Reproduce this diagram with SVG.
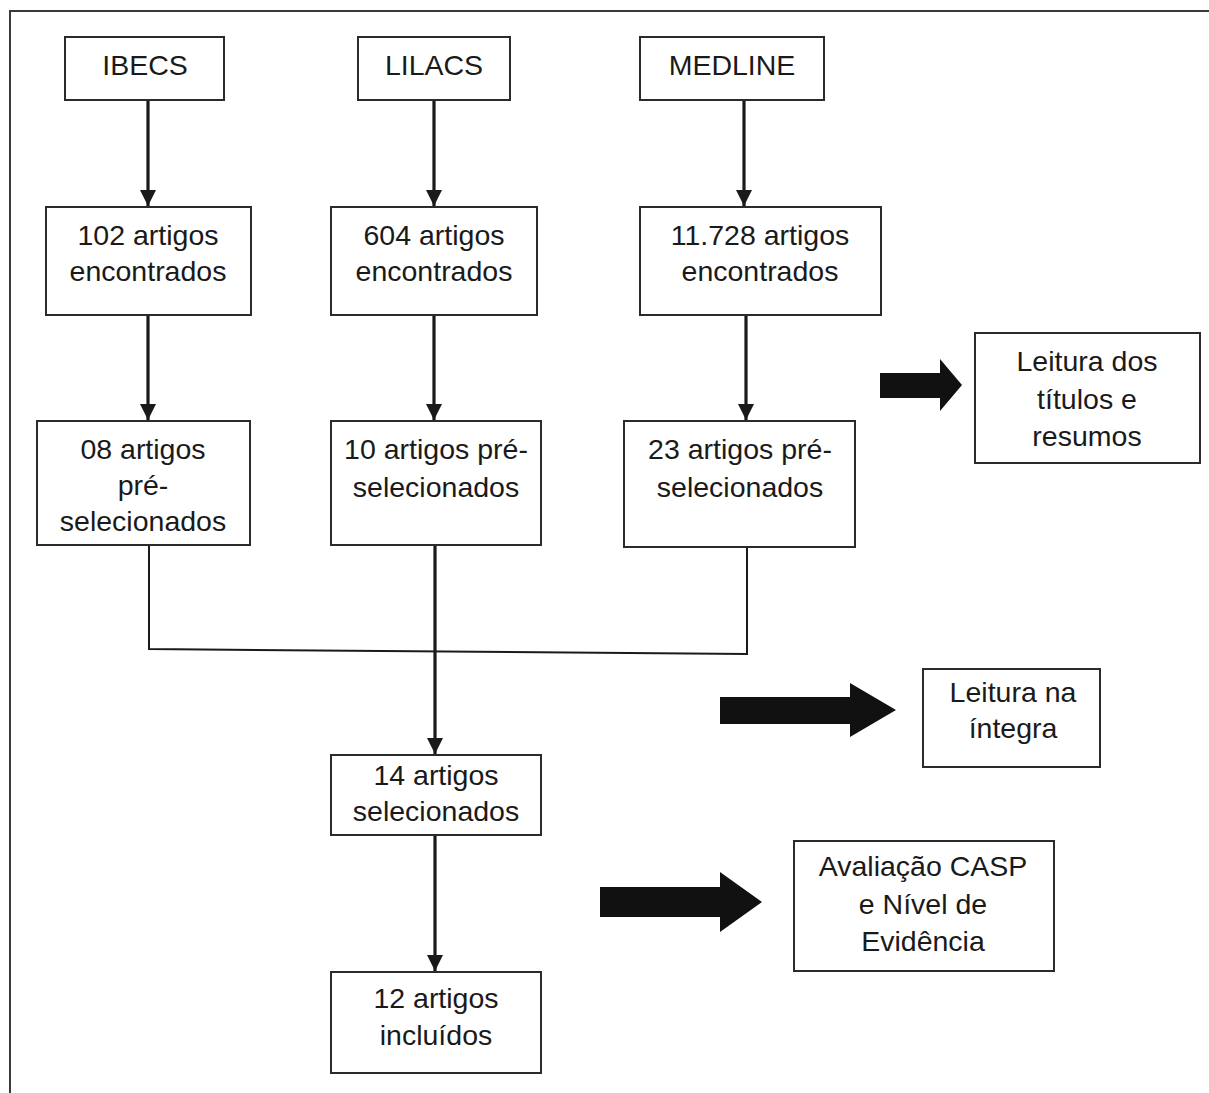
<svg xmlns="http://www.w3.org/2000/svg" width="1209" height="1093" viewBox="0 0 1209 1093">
<style>
.box{fill:#fff;stroke:#2b2b2b;stroke-width:2}
.t{font-family:"Liberation Sans",Arial,sans-serif;font-size:28.5px;fill:#1a1a1a;text-anchor:middle}
.c{fill:none;stroke:#1a1a1a;stroke-width:3.2}
.c2{fill:none;stroke:#1a1a1a;stroke-width:2}
.blk{fill:#111}
</style>
<defs>
<marker id="ah" markerWidth="5" markerHeight="5" refX="5" refY="2.5" orient="auto" markerUnits="strokeWidth">
<path d="M0,0 L5,2.5 L0,5 Z" fill="#1a1a1a"/>
</marker>
</defs>
<rect width="1209" height="1093" fill="#fff"/>
<path d="M10,1093 V11 H1209" fill="none" stroke="#3a3a3a" stroke-width="2"/>

<g id="connectors">
<line class="c" x1="148" y1="100" x2="148" y2="206" marker-end="url(#ah)"/>
<line class="c" x1="434" y1="100" x2="434" y2="206" marker-end="url(#ah)"/>
<line class="c" x1="744" y1="100" x2="744" y2="206" marker-end="url(#ah)"/>
<line class="c" x1="148" y1="315" x2="148" y2="420" marker-end="url(#ah)"/>
<line class="c" x1="434" y1="315" x2="434" y2="420" marker-end="url(#ah)"/>
<line class="c" x1="746" y1="315" x2="746" y2="420" marker-end="url(#ah)"/>
<polyline class="c2" points="149,545 149,649 747,654 747,547"/>
<line class="c" x1="435" y1="545" x2="435" y2="754" marker-end="url(#ah)"/>
<line class="c" x1="435" y1="835" x2="435" y2="971" marker-end="url(#ah)"/>
<polygon class="blk" points="880,373 940,373 940,359 962,385 940,411 940,398 880,398"/>
<polygon class="blk" points="720,697 850,697 850,683 896,710 850,737 850,724 720,724"/>
<polygon class="blk" points="600,887 720,887 720,872 762,902 720,932 720,917 600,917"/>
</g>

<g id="ibecs"><rect class="box" x="65" y="37" width="159" height="63"/><text class="t" x="145" y="75">IBECS</text></g>
<g id="lilacs"><rect class="box" x="358" y="37" width="152" height="63"/><text class="t" x="434" y="75">LILACS</text></g>
<g id="medline"><rect class="box" x="640" y="37" width="184" height="63"/><text class="t" x="732" y="75">MEDLINE</text></g>

<g id="ibecs-found"><rect class="box" x="46" y="207" width="205" height="108"/><text class="t" x="148" y="245">102 artigos</text><text class="t" x="148" y="281">encontrados</text></g>
<g id="lilacs-found"><rect class="box" x="331" y="207" width="206" height="108"/><text class="t" x="434" y="245">604 artigos</text><text class="t" x="434" y="281">encontrados</text></g>
<g id="medline-found"><rect class="box" x="640" y="207" width="241" height="108"/><text class="t" x="760" y="245">11.728 artigos</text><text class="t" x="760" y="281">encontrados</text></g>

<g id="leitura-titulos"><rect class="box" x="975" y="333" width="225" height="130"/><text class="t" x="1087" y="371">Leitura dos</text><text class="t" x="1087" y="409">títulos e</text><text class="t" x="1087" y="446">resumos</text></g>

<g id="ibecs-pre"><rect class="box" x="37" y="421" width="213" height="124"/><text class="t" x="143" y="459">08 artigos</text><text class="t" x="143" y="495">pré-</text><text class="t" x="143" y="531">selecionados</text></g>
<g id="lilacs-pre"><rect class="box" x="331" y="421" width="210" height="124"/><text class="t" x="436" y="459">10 artigos pré-</text><text class="t" x="436" y="497">selecionados</text></g>
<g id="medline-pre"><rect class="box" x="624" y="421" width="231" height="126"/><text class="t" x="740" y="459">23 artigos pré-</text><text class="t" x="740" y="497">selecionados</text></g>

<g id="leitura-integra"><rect class="box" x="923" y="669" width="177" height="98"/><text class="t" x="1013" y="702">Leitura na</text><text class="t" x="1013" y="738">íntegra</text></g>

<g id="selecionados"><rect class="box" x="331" y="755" width="210" height="80"/><text class="t" x="436" y="785">14 artigos</text><text class="t" x="436" y="821">selecionados</text></g>

<g id="avaliacao"><rect class="box" x="794" y="841" width="260" height="130"/><text class="t" x="923" y="876">Avaliação CASP</text><text class="t" x="923" y="914">e Nível de</text><text class="t" x="923" y="951">Evidência</text></g>

<g id="incluidos"><rect class="box" x="331" y="972" width="210" height="101"/><text class="t" x="436" y="1008">12 artigos</text><text class="t" x="436" y="1045">incluídos</text></g>
</svg>
